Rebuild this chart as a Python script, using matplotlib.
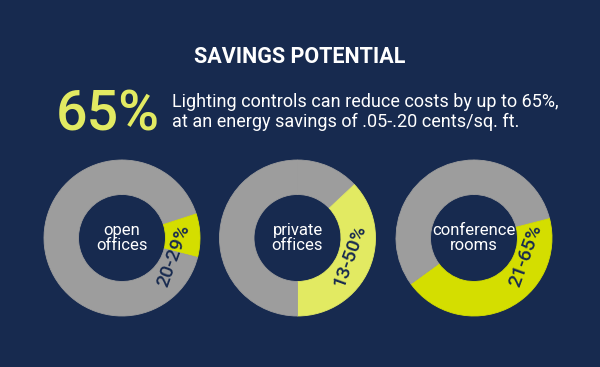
import matplotlib.pyplot as plt

# data
rooms = ['open\noffices', 'private\noffices', 'conference\nrooms']
low = [20, 13, 21]
high = [29, 50, 65]
headline = '65%'
title = 'SAVINGS POTENTIAL'
blurb = 'Lighting controls can reduce costs by up to 65%,\nat an energy savings of .05-.20 cents/sq. ft.'

navy = '#172a4f'
grey = '#9d9d9d'
seg_colors = ['#d4de00', '#e2ea62', '#d4de00']
font = ['Roboto', 'DejaVu Sans']

fig = plt.figure(figsize=(6, 3.67), dpi=100, facecolor=navy)
ax = fig.add_axes([0, 0, 1, 1])
ax.set_facecolor(navy)

centers = [122, 297.5, 474]
cy = 367 - 238
R = 78
ring = 34.5

for i, cx in enumerate(centers):
    vals = [low[i], high[i] - low[i], 100 - high[i]]
    cols = [grey, seg_colors[i], grey]
    wedges, _ = ax.pie(vals, colors=cols, startangle=90, counterclock=False,
                       center=(cx, cy), radius=R, frame=True,
                       wedgeprops=dict(width=ring, linewidth=0.6))
    for w, c in zip(wedges, cols):
        w.set_edgecolor(c)  # hide the seam between the grey pieces
    ax.text(cx, cy, rooms[i], color='white', ha='center', va='center',
            fontsize=12, family=font, linespacing=1.05)
    ax.text(cx + 52, cy - 18, f'{low[i]}-{high[i]}%', color=navy, ha='center', va='center',
            fontsize=14, family=font, fontweight='medium', rotation=70)

ax.text(300, 367 - 57, title, color='white', ha='center', va='center',
        fontsize=15.5, fontweight='bold', family=font)
ax.text(108, 367 - 115, headline, color='#e2ea62', ha='center', va='center',
        fontsize=40, fontweight='medium', family=font)
ax.text(172, 367 - 112, blurb, color='white', ha='left', va='center',
        fontsize=13, family=font, linespacing=1.2)

ax.set_xlim(0, 600)
ax.set_ylim(0, 367)
ax.set_aspect('auto')
ax.axis('off')

fig.savefig('out.png', dpi=100, facecolor=navy)
